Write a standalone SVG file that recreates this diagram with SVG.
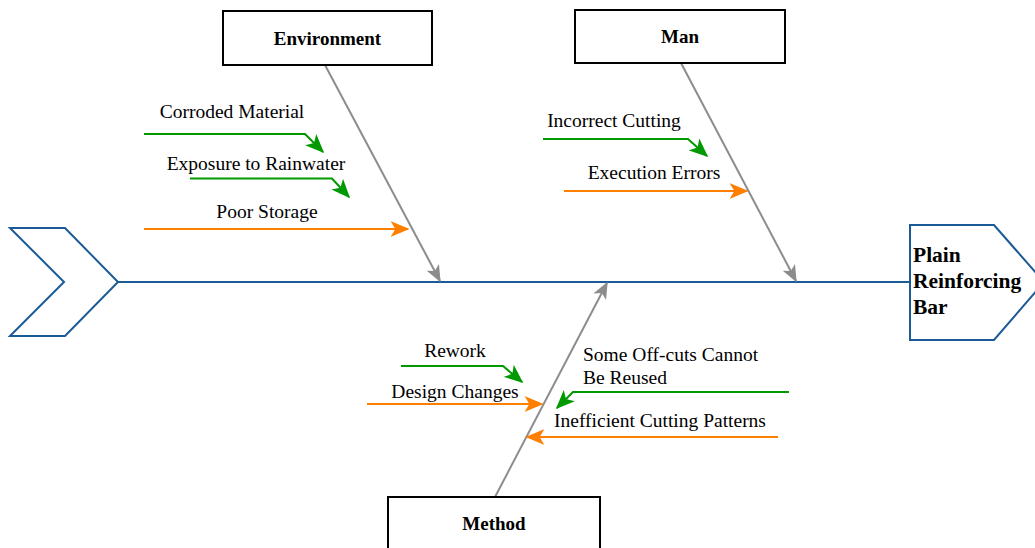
<svg xmlns="http://www.w3.org/2000/svg" width="1035" height="548" viewBox="0 0 1035 548" font-family="'Liberation Serif', 'DejaVu Serif', 'Times New Roman', serif">
  <style>
    .box { fill: #ffffff; stroke: #000000; stroke-width: 2; }
    .shape { fill: #ffffff; stroke: #1a5a96; stroke-width: 2; }
    text { font-family: 'Liberation Serif', 'DejaVu Serif', 'Times New Roman', serif; fill: #000000; }
    .title { font-weight: bold; font-size: 19px; }
    .head { font-weight: bold; font-size: 21.5px; }
    .label { font-size: 19.5px; }
    .bone { fill: none; stroke: #8c8c8c; stroke-width: 2; }
    .green { fill: none; stroke: #009900; stroke-width: 2; }
    .orange { fill: none; stroke: #ff8000; stroke-width: 2; }
  </style>
  <defs>
    <marker id="arrGray" viewBox="0 0 12 10" refX="11" refY="5" markerWidth="17" markerHeight="14" markerUnits="userSpaceOnUse" orient="auto">
      <path d="M0,0 L12,5 L0,10 L3,5 z" fill="#8c8c8c"/>
    </marker>
    <marker id="arrGreen" viewBox="0 0 12 10" refX="11" refY="5" markerWidth="19" markerHeight="16" markerUnits="userSpaceOnUse" orient="auto">
      <path d="M0,0 L12,5 L0,10 L3,5 z" fill="#009900"/>
    </marker>
    <marker id="arrOrange" viewBox="0 0 12 10" refX="11" refY="5" markerWidth="19" markerHeight="16" markerUnits="userSpaceOnUse" orient="auto">
      <path d="M0,0 L12,5 L0,10 L3,5 z" fill="#ff8000"/>
    </marker>
  </defs>

  <!-- spine and bones -->
  <g id="connectors">
    <line x1="118" y1="282" x2="910" y2="282" stroke="#1a5a96" stroke-width="2"/>
    <!-- main bones -->
    <line class="bone" x1="325" y1="65" x2="440" y2="281" marker-end="url(#arrGray)"/>
    <line class="bone" x1="681" y1="63" x2="796" y2="281" marker-end="url(#arrGray)"/>
    <line class="bone" x1="495" y1="497" x2="607" y2="283" marker-end="url(#arrGray)"/>
    <!-- environment causes -->
    <polyline class="green" points="144,134 305,134 323,152" marker-end="url(#arrGreen)"/>
    <polyline class="green" points="190,178.5 332,178.5 349,197" marker-end="url(#arrGreen)"/>
    <line class="orange" x1="144" y1="229" x2="408" y2="229" marker-end="url(#arrOrange)"/>
    <!-- man causes -->
    <polyline class="green" points="543,139 688,139 707,156" marker-end="url(#arrGreen)"/>
    <line class="orange" x1="564" y1="191" x2="747" y2="191" marker-end="url(#arrOrange)"/>
    <!-- method causes -->
    <polyline class="green" points="401,366 503,366 522,382" marker-end="url(#arrGreen)"/>
    <line class="orange" x1="367" y1="404" x2="542" y2="404" marker-end="url(#arrOrange)"/>
    <polyline class="green" points="789,392 573,392 557,408" marker-end="url(#arrGreen)"/>
    <line class="orange" x1="778" y1="437" x2="527" y2="437" marker-end="url(#arrOrange)"/>
  </g>

  <g id="tail">
    <polygon class="shape" points="10,228 65,228 118,282 65,336 10,336 64,282"/>
  </g>

  <g id="head">
    <polygon class="shape" points="910,225 994,225 1044,282 994,340 910,340"/>
    <text class="head" x="913" y="262">Plain</text>
    <text class="head" x="913" y="288">Reinforcing</text>
    <text class="head" x="913" y="314">Bar</text>
  </g>

  <g id="environment">
    <rect class="box" x="223" y="11" width="209" height="54"/>
    <text class="title" x="327.5" y="45" text-anchor="middle">Environment</text>
  </g>

  <g id="man">
    <rect class="box" x="575" y="10" width="210" height="53"/>
    <text class="title" x="680" y="43" text-anchor="middle">Man</text>
  </g>

  <g id="method">
    <rect class="box" x="388" y="497" width="212" height="60"/>
    <text class="title" x="494" y="530" text-anchor="middle">Method</text>
  </g>

  <g id="labels">
    <text class="label" x="232" y="118" text-anchor="middle">Corroded Material</text>
    <text class="label" x="256" y="170" text-anchor="middle">Exposure to Rainwater</text>
    <text class="label" x="267" y="218" text-anchor="middle">Poor Storage</text>
    <text class="label" x="614" y="127" text-anchor="middle">Incorrect Cutting</text>
    <text class="label" x="654" y="179" text-anchor="middle">Execution Errors</text>
    <text class="label" x="455" y="357" text-anchor="middle">Rework</text>
    <text class="label" x="455" y="398" text-anchor="middle">Design Changes</text>
    <text class="label" x="583" y="361">Some Off-cuts Cannot</text>
    <text class="label" x="583" y="384">Be Reused</text>
    <text class="label" x="660" y="427" text-anchor="middle">Inefficient Cutting Patterns</text>
  </g>
</svg>
